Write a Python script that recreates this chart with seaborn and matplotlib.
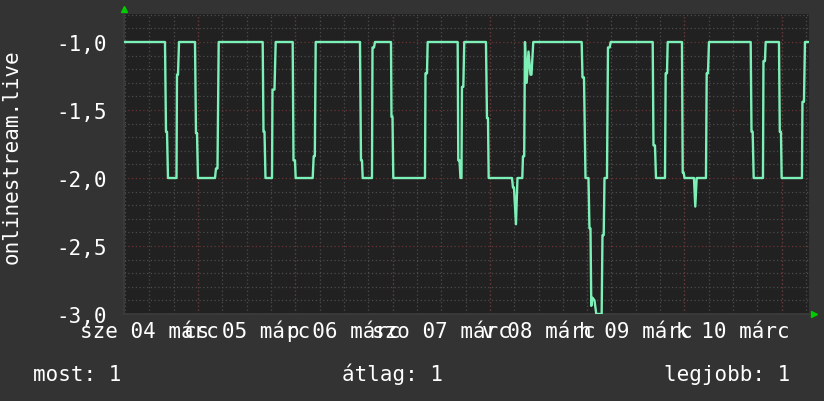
import matplotlib
matplotlib.use("Agg")
import matplotlib.pyplot as plt
from matplotlib.ticker import MultipleLocator, FuncFormatter
import seaborn as sns
import pandas as pd

# hours since 2020-03-04 00:00 and the measured value
hours = [5.75, 15.86, 16.11, 16.36, 16.60, 18.70, 18.82, 19.07, 19.32,
         23.26, 23.51, 23.76, 24.00, 28.20, 28.44, 28.81, 29.11,
         39.96, 40.16, 40.41, 40.65, 42.26, 42.38, 42.87, 43.17,
         47.36, 47.56, 47.93, 48.10, 52.30, 52.54, 52.82, 53.04,
         63.96, 64.21, 64.46, 64.63, 66.92, 67.05, 67.42, 67.66,
         71.61, 71.73, 71.98, 72.18, 80.00, 80.12, 80.49, 80.66,
         88.06, 88.21, 88.51, 88.75, 89.00, 89.12, 89.45, 89.69,
         95.04, 95.29, 95.54, 95.71, 101.46, 101.70, 101.95, 102.44, 102.81,
         104.00, 104.17, 104.47, 104.66, 105.08, 105.53, 106.02, 106.27, 106.71,
         118.65, 118.85, 119.22, 119.59, 120.33, 120.57, 120.82, 121.02,
         121.31, 121.81, 122.25, 123.58, 123.78, 124.08, 124.28,
         124.89, 125.14, 125.56, 125.80,
         136.17, 136.36, 136.73, 136.98, 139.20, 139.37, 139.69, 139.87,
         143.39, 143.57, 143.81, 144.01, 146.35, 146.67, 147.02,
         149.31, 149.49, 149.81, 150.05,
         160.34, 160.54, 160.83, 161.08, 163.37, 163.49, 163.86, 164.04,
         167.32, 167.52, 167.81, 167.98, 172.99, 173.11, 173.48, 173.73, 174.6]
values = [-1.0, -1.0, -1.66, -1.66, -2.0, -2.0, -1.24, -1.24, -1.0,
          -1.0, -1.67, -1.67, -2.0, -2.0, -1.93, -1.93, -1.0,
          -1.0, -1.66, -1.66, -2.0, -2.0, -1.35, -1.35, -1.0,
          -1.0, -1.87, -1.87, -2.0, -2.0, -1.84, -1.84, -1.0,
          -1.0, -1.87, -1.87, -2.0, -2.0, -1.04, -1.04, -1.0,
          -1.0, -1.55, -1.55, -2.0, -2.0, -1.23, -1.23, -1.0,
          -1.0, -1.87, -1.87, -2.0, -2.0, -1.33, -1.33, -1.0,
          -1.0, -1.56, -1.56, -2.0, -2.0, -2.07, -2.07, -2.34, -2.0,
          -2.0, -1.84, -1.84, -1.0, -1.30, -1.07, -1.24, -1.24, -1.0,
          -1.0, -1.26, -1.26, -2.0, -2.0, -2.37, -2.37, -2.94,
          -2.88, -2.90, -3.0, -3.0, -2.42, -2.42, -2.0,
          -2.0, -1.04, -1.04, -1.0,
          -1.0, -1.76, -1.76, -2.0, -2.0, -1.23, -1.23, -1.0,
          -1.0, -1.96, -1.96, -2.0, -2.0, -2.21, -2.0,
          -2.0, -1.23, -1.23, -1.0,
          -1.0, -1.66, -1.66, -2.0, -2.0, -1.14, -1.14, -1.0,
          -1.0, -1.66, -1.66, -2.0, -2.0, -1.44, -1.44, -1.0, -1.0]

day_labels = ["sze 04 márc", "cs 05 márc", "p 06 márc", "szo 07 márc",
              "v 08 márc", "h 09 márc", "k 10 márc"]
label_hours = [12, 36, 60, 84, 108, 132, 156]
legend_items = ["most: 1", "átlag: 1", "legjobb: 1"]

df = pd.DataFrame({"ora": hours, "ertek": values})

BG = "#333333"
PLOT_BG = "#212121"
TXT = "#ffffff"

sns.set_theme(style="dark", rc={"figure.facecolor": BG, "axes.facecolor": PLOT_BG,
                                "axes.edgecolor": "#3c3c3c", "text.color": TXT,
                                "xtick.color": TXT, "ytick.color": TXT,
                                "axes.labelcolor": TXT})
plt.rcParams["font.family"] = ["DejaVu Sans Mono"]

fig = plt.figure(figsize=(8.24, 4.02), dpi=100)
ax = fig.add_axes([124 / 824, 87 / 402, 685.3 / 824, 300 / 402])

sns.lineplot(data=df, x="ora", y="ertek", ax=ax, color="#7df0b8", lw=1.7, zorder=5)

ax.set_xlim(5.75, 174.8)
ax.set_ylim(-3.0, -0.794)

# y grid
ax.yaxis.set_major_locator(MultipleLocator(0.5))
ax.yaxis.set_minor_locator(MultipleLocator(0.1))
ax.yaxis.set_major_formatter(FuncFormatter(lambda v, p: f"{v:.1f}".replace(".", ",")))
ax.grid(True, axis="y", which="major", color="#6b3434", lw=0.9, ls=(0, (1, 2)))
ax.grid(True, axis="y", which="minor", color="#4c4c4c", lw=0.9, ls=(0, (1, 2)))

# x grid: 6 h gray, midnight red, labels at noon
ax.set_xticks(label_hours, day_labels)
ax.xaxis.set_minor_locator(MultipleLocator(6))
ax.xaxis.remove_overlapping_locs = False
ax.grid(True, axis="x", which="minor", color="#4c4c4c", lw=0.9, ls=(0, (1, 2)))
ax.grid(False, axis="x", which="major")
for h in range(24, 175, 24):
    ax.axvline(h, color="#6b3434", lw=0.9, ls=(0, (1, 2)), zorder=1)
ax.set_axisbelow(True)

ax.tick_params(axis="both", which="both", length=0, labelsize=15)
ax.tick_params(axis="y", pad=12)
ax.tick_params(axis="x", pad=16.5)
for lbl in ax.get_xticklabels():
    lbl.set_va("baseline")
for s in ["top", "right"]:
    ax.spines[s].set_visible(False)

ax.set_xlabel("")
ax.set_ylabel("onlinestream.live", fontsize=15, va="center")
ax.yaxis.set_label_coords(-112 / 685.3, 0.527)

# rrdtool style arrows
ax.plot([0], [1.017], marker="^", color="#00cc00", ms=5, transform=ax.transAxes, clip_on=False)
ax.plot([1.007], [0], marker=">", color="#00cc00", ms=5, transform=ax.transAxes, clip_on=False)

fig.text(33 / 824, 1 - 381 / 402, legend_items[0], fontsize=15, ha="left", va="baseline")
fig.text(392 / 824, 1 - 381 / 402, legend_items[1], fontsize=15, ha="center", va="baseline")
fig.text(790 / 824, 1 - 381 / 402, legend_items[2], fontsize=15, ha="right", va="baseline")

fig.savefig("out.png", dpi=100, facecolor=BG)
